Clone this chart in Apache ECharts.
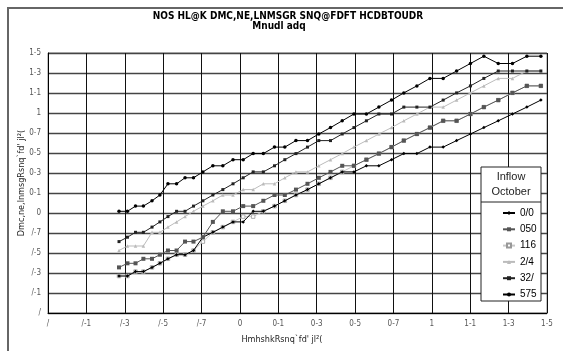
<!DOCTYPE html>
<html><head><meta charset="utf-8">
<script src="https://cdn.jsdelivr.net/npm/echarts@6/dist/echarts.min.js"></script>
<style>html,body{margin:0;padding:0;background:#fff}#c{width:563px;height:351px}</style>
</head><body><div id="c"></div>
<script>
const titleText = "NOS HL@K DMC,NE,LNMSGR SNQ@FDFT HCDBTOUDR";
const subtitleText = "Mnudl adq";
const xName = "HmhshkRsnq`fd' jl\u00b2(";
const yName = "Dmc,ne,lnmsgRsnq`fd' jl\u00b2(";
const tickLabels = ["/","/-1","/-3","/-5","/-7","0","0-1","0-3","0-5","0-7","1","1-1","1-3","1-5"];
const legendTitle = ["Inflow","October"];
const seriesNames = ["0/0","050","116","2/4","32/","575"];

// initial storage (x)
const initialStorage = [0.370,0.414,0.456,0.497,0.542,0.583,0.625,0.670,0.714,0.758,0.807,0.859,0.911,0.964,1.017,1.069,1.122,1.180,1.234,1.292,1.352,1.411,1.472,1.533,1.594,1.659,1.724,1.790,1.854,1.922,1.990,2.059,2.129,2.201,2.271,2.346,2.420,2.495,2.568];

// end-of-month storage (y) per inflow
const s575 = [1.017,1.017,1.069,1.069,1.122,1.180,1.292,1.292,1.352,1.352,1.411,1.472,1.472,1.533,1.533,1.594,1.594,1.659,1.659,1.724,1.724,1.790,1.854,1.922,1.990,1.990,2.059,2.129,2.201,2.271,2.346,2.346,2.420,2.495,2.568,2.495,2.495,2.568,2.568];
const s32 = [0.714,0.758,0.807,0.807,0.859,0.911,0.964,1.017,1.017,1.069,1.122,1.180,1.234,1.292,1.352,1.411,1.411,1.472,1.533,1.594,1.659,1.724,1.724,1.790,1.854,1.922,1.990,1.990,2.059,2.059,2.059,2.129,2.201,2.271,2.346,2.420,2.420,2.420,2.420];
const s24 = [0.625,0.670,0.670,0.670,0.807,0.807,0.859,0.911,0.964,1.017,1.069,1.122,1.180,1.180,1.234,1.234,1.292,1.292,1.352,1.411,1.411,1.472,1.533,1.594,1.659,1.724,1.790,1.854,1.922,1.990,2.059,2.059,2.129,2.201,2.271,2.346,2.346,2.420,2.420];
const s116 = [0.370,0.370,0.414,0.414,0.456,0.497,0.542,0.583,0.583,0.625,0.714,0.807,0.859,0.911,0.964,0.964,1.017,1.069,1.122,1.180,1.234,1.292,1.352,1.411,1.472,1.533,1.594,1.659,1.724,1.790,1.854,1.922,1.922,1.990,2.059,2.129,2.201,2.271,2.271];
const s050 = [0.456,0.497,0.497,0.542,0.542,0.583,0.625,0.625,0.714,0.714,0.758,0.911,1.017,1.017,1.069,1.069,1.122,1.180,1.180,1.234,1.292,1.352,1.411,1.472,1.472,1.533,1.594,1.659,1.724,1.790,1.854,1.922,1.922,1.990,2.059,2.129,2.201,2.271,2.271];
const s00 = [0.370,0.370,0.414,0.414,0.456,0.497,0.542,0.583,0.583,0.625,0.758,0.807,0.859,0.911,0.911,1.017,1.017,1.069,1.122,1.180,1.234,1.292,1.352,1.411,1.411,1.472,1.472,1.533,1.594,1.594,1.659,1.659,1.724,1.790,1.854,1.922,1.990,2.059,2.129];

function pairs(ys){ return initialStorage.map((x,i)=>[x, ys[i]]); }
const labelFont = "'Liberation Sans Narrow','DejaVu Sans Condensed',sans-serif";
function fmt(v){ const i = Math.round(v/0.2); return tickLabels[i] !== undefined ? tickLabels[i] : ''; }

const chart = echarts.init(document.getElementById('c'), null, {renderer:'canvas'});
function mk(name, ys, color, symbol, size, lineColor, fill, z){
  return {name, type:'line', data:pairs(ys), symbol, symbolSize:size, z:z,
    lineStyle:{color:lineColor, width:1}, itemStyle:{color:fill, borderColor:color, borderWidth: fill==='#fff'?0.8:0},
    emphasis:{disabled:true}, animation:false};
}
chart.setOption({
  animation:false,
  grid:{left:48, right:16, top:53, bottom:38, show:true, borderColor:'#888', borderWidth:1, backgroundColor:'transparent'},
  xAxis:{type:'value', min:0, max:2.6, interval:0.2,
    axisLine:{show:true, lineStyle:{color:'#000', width:1}}, axisTick:{show:false},
    axisLabel:{formatter:fmt, fontFamily:labelFont, fontSize:8, color:'#555', margin:7},
    splitLine:{show:true, lineStyle:{color:'#111', width:1}}},
  yAxis:{type:'value', min:0, max:2.6, interval:0.2,
    axisLine:{show:true, lineStyle:{color:'#000', width:1}}, axisTick:{show:false},
    axisLabel:{formatter:fmt, fontFamily:labelFont, fontSize:8, color:'#555', margin:7},
    splitLine:{show:true, lineStyle:{color:'#444', width:1.4}}},
  legend:{data:seriesNames, orient:'vertical', left:497, top:203, itemWidth:12, itemHeight:5, itemGap:6.3, z:10,
    textStyle:{fontFamily:"'Liberation Sans',sans-serif", fontSize:10, color:'#000'}, selectedMode:false},
  graphic:[
    {type:'rect', shape:{x:8, y:8, width:620, height:420}, style:{fill:'none', stroke:'#666', lineWidth:2}, z:1},
    {type:'rect', shape:{x:481, y:167, width:60, height:134}, style:{fill:'#fff', stroke:'#222', lineWidth:1}, z:5},
    {type:'line', shape:{x1:481, y1:202, x2:541, y2:202}, style:{stroke:'#222', lineWidth:1}, z:6},
    {type:'text', x:511, y:177, style:{text:legendTitle[0], font:"11px 'Liberation Sans',sans-serif", fill:'#222', textAlign:'center', textVerticalAlign:'middle'}, z:6},
    {type:'text', x:511, y:192, style:{text:legendTitle[1], font:"11px 'Liberation Sans',sans-serif", fill:'#222', textAlign:'center', textVerticalAlign:'middle'}, z:6},
    {type:'text', x:288, y:16, style:{text:titleText, font:"bold 10px 'DejaVu Sans Condensed',sans-serif", fill:'#000', textAlign:'center', textVerticalAlign:'middle'}, z:6},
    {type:'text', x:279, y:26, style:{text:subtitleText, font:"bold 10px 'DejaVu Sans Condensed',sans-serif", fill:'#000', textAlign:'center', textVerticalAlign:'middle'}, z:6},
    {type:'text', x:282, y:340, style:{text:xName, font:"9px 'Liberation Sans Narrow','DejaVu Sans Condensed',sans-serif", fill:'#222', textAlign:'center', textVerticalAlign:'middle'}, z:6},
    {type:'text', x:22, y:183, rotation:Math.PI/2, style:{text:yName, font:"9px 'Liberation Sans Narrow','DejaVu Sans Condensed',sans-serif", fill:'#222', textAlign:'center', textVerticalAlign:'middle'}, z:6}
  ],
  series:[
    mk('116', s116, '#999', 'rect', 3.5, '#c8c8c8', '#fff', 2),
    mk('2/4', s24, '#bbb', 'triangle', 3.5, '#bbb', '#bbb', 3),
    mk('0/0', s00, '#000', 'diamond', 3.5, '#000', '#000', 4),
    mk('050', s050, '#555', 'rect', 4, '#555', '#555', 4),
    mk('32/', s32, '#222', 'rect', 3, '#222', '#222', 4),
    mk('575', s575, '#000', 'circle', 3.5, '#000', '#000', 4)
  ]
});
</script></body></html>
